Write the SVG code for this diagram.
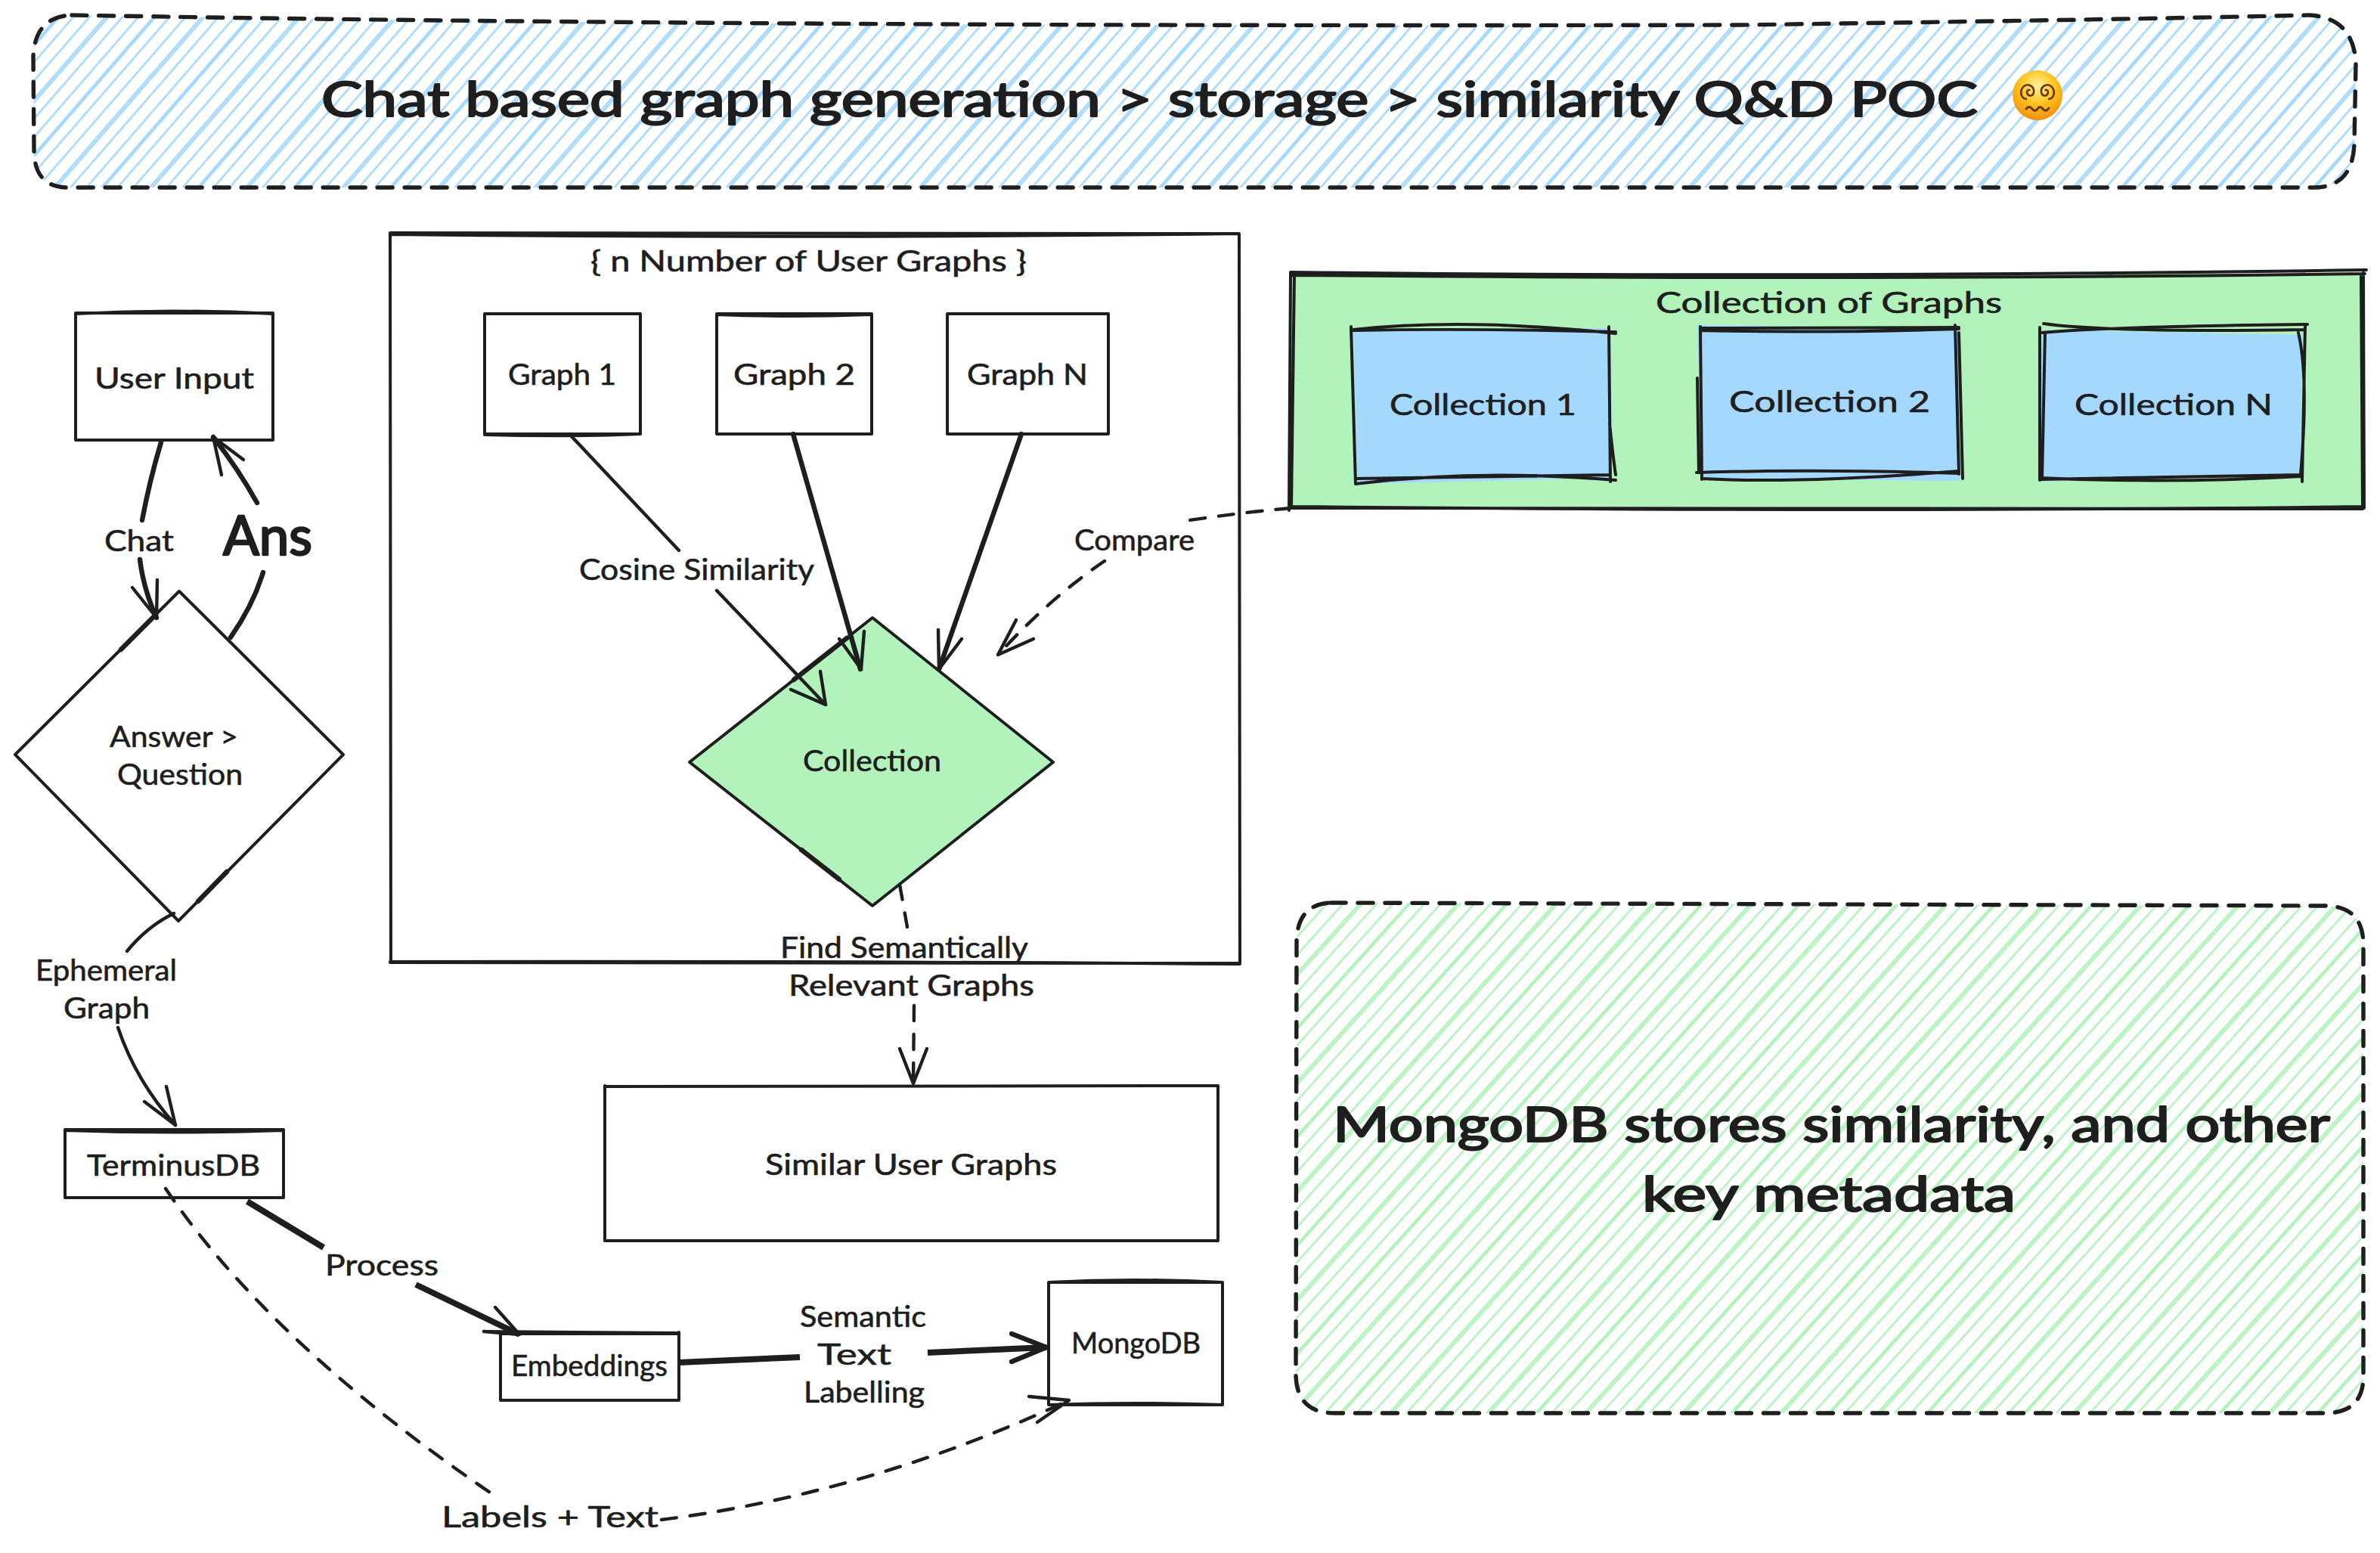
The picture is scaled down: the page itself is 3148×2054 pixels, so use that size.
<svg xmlns="http://www.w3.org/2000/svg" width="3148" height="2054" viewBox="0 0 3148 2054">
<style>
text{font-family:Lato,"Open Sans",sans-serif;fill:#1e1e1e;font-size:38px;stroke:#1e1e1e;stroke-width:.6px;stroke-linejoin:round;transform:translateY(2px)}
.xl{font-size:64px;stroke-width:2.2px}
.ans{font-size:72px;stroke-width:2.6px}
.ln{fill:none;stroke:#1e1e1e;stroke-width:4;stroke-linecap:round;stroke-linejoin:round}
.w{fill:#fff;stroke:none}
.g{fill:#b2f2bb;stroke:none}
.b{fill:#a5d8ff;stroke:none}
.dash{fill:none;stroke:#1e1e1e;stroke-width:4.4;stroke-dasharray:20 18;stroke-linecap:round}
.bd{fill:none;stroke:#1e1e1e;stroke-width:5.4;stroke-dasharray:20 16;stroke-linecap:round}
.c{fill:none;stroke:#1e1e1e;stroke-width:4.4;stroke-linecap:round;stroke-linejoin:round}
.th{stroke-width:6.4}
.xth{stroke-width:8;stroke-linecap:butt}
</style>
<defs>
<pattern id="hb" patternUnits="userSpaceOnUse" width="96" height="300" patternTransform="rotate(41)">
<path d="M8 0V300M24 0V300M27 0V300M41 0V300M57 0V300M72 0V300M74 0V300M88 0V300" stroke="#a5d8ff" stroke-width="2.6" fill="none"/>
</pattern>
<pattern id="hg" patternUnits="userSpaceOnUse" width="96" height="300" patternTransform="rotate(42)">
<path d="M8 0V300M24 0V300M27 0V300M41 0V300M57 0V300M72 0V300M74 0V300M88 0V300" stroke="#b2f2bb" stroke-width="2.6" fill="none"/>
</pattern>
<radialGradient id="em" cx="50%" cy="32%" r="72%">
<stop offset="0" stop-color="#fff3a0"/><stop offset=".5" stop-color="#fcc21b"/><stop offset="1" stop-color="#f08a12"/>
</radialGradient>
</defs>

<g id="title-banner">
<path fill="url(#hb)" d="M95 20Q1000 36 2300 33Q2800 26 3055 20Q3114 24 3116 85L3114 190Q3112 248 3060 248L90 248Q46 248 45 200L44 75Q46 22 95 20Z"/>
<path class="bd" d="M95 20Q1000 36 2300 33Q2800 26 3055 20Q3114 24 3116 85L3114 190Q3112 248 3060 248L90 248Q46 248 45 200L44 75Q46 22 95 20Z"/>
<text class="xl" x="425" y="152" textLength="2191" lengthAdjust="spacingAndGlyphs">Chat based graph generation &gt; storage &gt; similarity Q&amp;D POC</text>
<g id="emoji-dizzy-face">
<circle cx="2695" cy="126" r="33" fill="url(#em)"/>
<path d="M2681 131C2673 131 2671 121 2676 115C2682 109 2691 114 2690 122C2689 128 2682 128 2681 122C2681 119 2684 118 2685 120" fill="none" stroke="#6b3500" stroke-width="2.6"/>
<path d="M2709 131C2717 131 2719 121 2714 115C2708 109 2699 114 2700 122C2701 128 2708 128 2709 122C2709 119 2706 118 2705 120" fill="none" stroke="#6b3500" stroke-width="2.6"/>
<path d="M2680 144Q2684 139 2688 144T2695 144T2702 144T2710 143" fill="none" stroke="#6b3500" stroke-width="3" stroke-linecap="round"/>
</g>
</g>

<g id="user-graphs-frame">
<rect class="w" x="516" y="310" width="1123" height="963"/>
<path class="ln" d="M516 310Q1050 316 1639 309M516 308L1639 309M516 309L517 1273M1639 309L1640 1274M516 1273L1640 1274M516 1272Q1100 1271 1640 1275"/>
<text x="781" y="357" textLength="577" lengthAdjust="spacingAndGlyphs">{ n Number of User Graphs }</text>
</g>

<g id="collection-of-graphs">
<rect class="g" x="1706" y="362" width="1421" height="311"/>
<path class="ln" d="M1707 360Q2400 368 3130 357M1707 364Q2500 371 3128 362M1707 360L1705 675M1712 362L1708 672M3126 358L3127 672M3123 365L3125 668M1705 670Q2500 678 3127 670M1710 672L3125 673"/>
<text x="2190" y="412" font-size="42" textLength="458" lengthAdjust="spacingAndGlyphs">Collection of Graphs</text>
</g>

<g id="collection-1">
<path class="b" d="M1790 436L2130 434L2132 632L1795 640Z"/>
<path class="ln" d="M1790 436Q1937 420 2137 441M1790 437Q1950 434 2137 439M1787 432L1793 640M2128 432L2130 637M2129 560Q2133 600 2137 628M1793 640Q1955 620 2137 635M1793 633L2128 628"/>
<text x="1838" y="547" font-size="42" textLength="247" lengthAdjust="spacingAndGlyphs">Collection 1</text>
</g>
<g id="collection-2">
<path class="b" d="M2245 430L2590 434L2592 636L2251 633Z"/>
<path class="ln" d="M2249 434L2591 433M2249 437Q2400 441 2591 435M2249 432L2251 634M2245 500L2247 625M2586 430L2591 627M2591 440L2596 633M2244 625Q2400 620 2591 626M2251 633Q2380 640 2591 623"/>
<text x="2287" y="543" font-size="42" textLength="266" lengthAdjust="spacingAndGlyphs">Collection 2</text>
</g>
<g id="collection-n">
<path class="b" d="M2701 436L3045 443L3043 628L2697 637Z"/>
<path class="ln" d="M2703 428Q2790 440 3049 436M2701 440Q2790 432 3052 429M2698 433L2698 635M2705 440L2701 633M3049 430L3045 637M3040 440Q3054 500 3043 628M2698 634L3043 628M2698 632Q2870 640 3043 630"/>
<text x="2744" y="547" font-size="42" textLength="262" lengthAdjust="spacingAndGlyphs">Collection N</text>
</g>

<g id="user-input">
<rect class="w" x="100" y="414" width="261" height="168"/>
<path class="ln" d="M100 415Q230 408 361 415M100 414L361 414M100 414L100 582M361 414L361 582M100 582L361 582"/>
<text x="125" y="512" textLength="211" lengthAdjust="spacingAndGlyphs">User Input</text>
</g>

<g id="answer-question">
<path class="w" d="M237 782L454 998L236 1218L20 998Z"/>
<path class="ln" d="M237 782L454 998L236 1218L20 998Z"/>
<path class="c th" d="M206 813L160 859M300 1153L262 1192"/>
<text x="145" y="986" textLength="170" lengthAdjust="spacingAndGlyphs">Answer &gt;</text>
<text x="155" y="1036" textLength="166" lengthAdjust="spacingAndGlyphs">Question</text>
</g>

<g id="terminusdb">
<rect class="w" x="86" y="1495" width="289" height="89"/>
<path class="ln" d="M86 1495Q230 1500 375 1495M86 1494L375 1494M86 1494L86 1584M375 1494L375 1584M86 1584L375 1584"/>
<text x="115" y="1553" textLength="229" lengthAdjust="spacingAndGlyphs">TerminusDB</text>
</g>

<g id="graph-1">
<rect class="w" x="641" y="416" width="206" height="158"/>
<path class="ln" d="M641 415L847 415M641 416L641 574M847 416L847 574M641 574L847 574M641 575Q750 578 847 574"/>
<text x="672" y="507" textLength="143" lengthAdjust="spacingAndGlyphs">Graph 1</text>
</g>
<g id="graph-2">
<rect class="w" x="948" y="416" width="205" height="158"/>
<path class="ln" d="M948 415L1153 415M948 416Q1050 420 1153 416M948 416L948 574M1153 416L1153 574M948 574L1153 574"/>
<text x="970" y="507" textLength="161" lengthAdjust="spacingAndGlyphs">Graph 2</text>
</g>
<g id="graph-n">
<rect class="w" x="1253" y="416" width="213" height="158"/>
<path class="ln" d="M1253 415L1466 415M1253 416L1253 574M1466 416L1466 574M1253 574L1466 574"/>
<text x="1279" y="507" textLength="160" lengthAdjust="spacingAndGlyphs">Graph N</text>
</g>

<g id="collection-diamond">
<path class="g" d="M1154 817L1393 1008L1154 1198L912 1008Z"/>
<path class="ln" d="M1154 817L1393 1008L1154 1198L912 1008Z"/>
<path class="c th" d="M1120 844L1050 899M1060 1124L1110 1163"/>
<text x="1062" y="1018" textLength="183" lengthAdjust="spacingAndGlyphs">Collection</text>
</g>

<g id="similar-user-graphs">
<rect class="w" x="800" y="1437" width="811" height="204"/>
<path class="ln" d="M800 1437L1611 1436M800 1436L800 1641M1611 1436L1611 1641M800 1641L1611 1641"/>
<text x="1012" y="1552" textLength="386" lengthAdjust="spacingAndGlyphs">Similar User Graphs</text>
</g>

<g id="embeddings">
<rect class="w" x="662" y="1762" width="236" height="90"/>
<path class="ln" d="M640 1761L898 1763M662 1764L898 1764M662 1762L662 1852M898 1762L898 1852M662 1852L898 1852"/>
<text x="676" y="1818" textLength="207" lengthAdjust="spacingAndGlyphs">Embeddings</text>
</g>

<g id="mongodb">
<rect class="w" x="1387" y="1695" width="230" height="163"/>
<path class="ln" d="M1387 1696Q1500 1690 1617 1696M1387 1696L1617 1696M1387 1696L1387 1858M1617 1696L1617 1858M1387 1858Q1500 1854 1617 1858M1387 1858L1617 1858"/>
<text x="1417" y="1788" textLength="171" lengthAdjust="spacingAndGlyphs">MongoDB</text>
</g>

<g id="mongodb-note">
<path fill="url(#hg)" d="M1760 1194L3075 1198Q3126 1198 3126 1250L3126 1820Q3126 1869 3075 1869L1765 1869Q1716 1869 1714 1820L1715 1245Q1716 1196 1760 1194Z"/>
<path class="bd" d="M1760 1194L3075 1198Q3126 1198 3126 1250L3126 1820Q3126 1869 3075 1869L1765 1869Q1716 1869 1714 1820L1715 1245Q1716 1196 1760 1194Z"/>
<text class="xl" x="1763" y="1508" textLength="1319" lengthAdjust="spacingAndGlyphs">MongoDB stores similarity, and other</text>
<text class="xl" x="2172" y="1600" textLength="494" lengthAdjust="spacingAndGlyphs">key metadata</text>
</g>

<g id="connectors">
<g id="edge-chat">
<path class="c th" d="M213 585Q198 635 188 688M185 740Q190 780 207 817"/>
<path class="c" d="M175 777L207 817L208 767"/>
<text x="138" y="727" textLength="92" lengthAdjust="spacingAndGlyphs">Chat</text>
</g>
<g id="edge-ans">
<path class="c th" d="M305 843Q335 800 348 757M340 665Q315 620 282 578"/>
<path class="c" d="M322 608L282 578L293 628"/>
<text class="ans" x="295" y="732" textLength="118" lengthAdjust="spacingAndGlyphs">Ans</text>
</g>
<g id="edge-ephemeral">
<path class="c" d="M230 1208Q195 1225 168 1258M156 1359Q180 1430 232 1488"/>
<path class="c" d="M191 1457L232 1488L220 1437"/>
<text x="47" y="1295" textLength="187" lengthAdjust="spacingAndGlyphs">Ephemeral</text>
<text x="84" y="1345" textLength="114" lengthAdjust="spacingAndGlyphs">Graph</text>
</g>
<g id="edge-process">
<path class="c xth" d="M327 1589L428 1650M550 1699L687 1765"/>
<path class="c" d="M655 1729L687 1765L640 1761"/>
<text x="430" y="1685" textLength="150" lengthAdjust="spacingAndGlyphs">Process</text>
</g>
<g id="edge-semantic">
<path class="c xth" d="M898 1802L1058 1795M1227 1789L1384 1782"/>
<path class="c th" d="M1338 1764L1384 1782L1338 1801"/>
<text x="1058" y="1753" textLength="167" lengthAdjust="spacingAndGlyphs">Semantic</text>
<text x="1081" y="1803" font-size="42" textLength="98" lengthAdjust="spacingAndGlyphs">Text</text>
<text x="1063" y="1853" textLength="160" lengthAdjust="spacingAndGlyphs">Labelling</text>
</g>
<g id="edge-labels-text">
<path class="dash" d="M219 1572Q360 1780 660 1982"/>
<path class="dash" d="M875 2010Q1150 1975 1414 1852"/>
<path class="c" d="M1361 1847L1414 1852L1372 1881"/>
<text x="584" y="2018" textLength="287" lengthAdjust="spacingAndGlyphs">Labels + Text</text>
</g>
<g id="edge-cosine">
<path class="c" d="M753 574L898 728M948 781L1092 932"/>
<path class="c" d="M1085 888L1092 932L1046 912"/>
<text x="766" y="765" textLength="311" lengthAdjust="spacingAndGlyphs">Cosine Similarity</text>
</g>
<path id="edge-graph-2" class="c th" d="M1049 574L1138 885"/>
<path id="edge-graph-2-head" class="c" d="M1110 845L1139 885L1143 835"/>
<path id="edge-graph-n" class="c th" d="M1351 574L1242 885"/>
<path id="edge-graph-n-head" class="c" d="M1241 833L1242 885L1272 845"/>
<g id="edge-compare">
<path class="dash" d="M1707 672Q1640 678 1567 689M1461 742Q1390 790 1320 866"/>
<path class="c" d="M1344 820L1320 866L1367 845"/>
<text x="1421" y="726" textLength="159" lengthAdjust="spacingAndGlyphs">Compare</text>
</g>
<g id="edge-find">
<path class="dash" d="M1190 1170L1200 1226M1209 1330L1208 1433"/>
<path class="c" d="M1190 1387L1208 1433L1226 1387"/>
<text x="1032" y="1265" textLength="328" lengthAdjust="spacingAndGlyphs">Find Semantically</text>
<text x="1043" y="1315" textLength="325" lengthAdjust="spacingAndGlyphs">Relevant Graphs</text>
</g>
</g>
</svg>
